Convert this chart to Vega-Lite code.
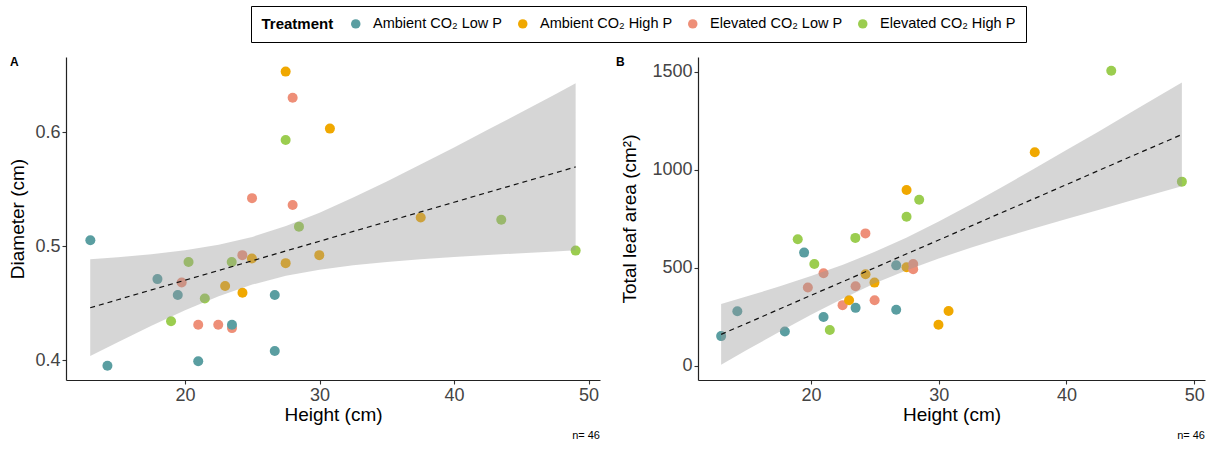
{
  "$schema": "https://vega.github.io/schema/vega-lite/v6.json",
  "padding": {"left": 8, "top": 5, "right": 10, "bottom": 2},
  "config": {
    "font": "Liberation Sans",
    "view": {"stroke": null},
    "axis": {"grid": false, "domainColor": "#222", "domainWidth": 1.2, "tickColor": "#333", "tickSize": 4, "tickWidth": 1.1, "labelFontSize": 18, "labelColor": "#444", "titleFontSize": 19, "titleFontWeight": "normal", "titleColor": "#000", "labelPadding": 2},
    "title": {"fontWeight": "normal"}
  },
  "datasets": {
    "plants": [
      {"h": 12.96, "d": 0.505, "la": 151, "t": "Ambient CO₂ Low P"},
      {"h": 14.23, "d": 0.395, "la": 278, "t": "Ambient CO₂ Low P"},
      {"h": 17.95, "d": 0.471, "la": 174, "t": "Ambient CO₂ Low P"},
      {"h": 18.96, "d": 0.434, "la": 645, "t": "Elevated CO₂ High P"},
      {"h": 19.46, "d": 0.457, "la": 577, "t": "Ambient CO₂ Low P"},
      {"h": 19.75, "d": 0.468, "la": 399, "t": "Elevated CO₂ Low P"},
      {"h": 20.26, "d": 0.486, "la": 519, "t": "Elevated CO₂ High P"},
      {"h": 20.98, "d": 0.431, "la": 472, "t": "Elevated CO₂ Low P"},
      {"h": 20.98, "d": 0.399, "la": 248, "t": "Ambient CO₂ Low P"},
      {"h": 21.47, "d": 0.454, "la": 182, "t": "Elevated CO₂ High P"},
      {"h": 22.47, "d": 0.431, "la": 309, "t": "Elevated CO₂ Low P"},
      {"h": 22.98, "d": 0.465, "la": 334, "t": "Ambient CO₂ High P"},
      {"h": 23.49, "d": 0.428, "la": 405, "t": "Elevated CO₂ Low P"},
      {"h": 23.49, "d": 0.431, "la": 295, "t": "Ambient CO₂ Low P"},
      {"h": 23.47, "d": 0.486, "la": 652, "t": "Elevated CO₂ High P"},
      {"h": 24.26, "d": 0.492, "la": 675, "t": "Elevated CO₂ Low P"},
      {"h": 24.27, "d": 0.459, "la": 467, "t": "Ambient CO₂ High P"},
      {"h": 24.97, "d": 0.489, "la": 424, "t": "Ambient CO₂ High P"},
      {"h": 24.98, "d": 0.542, "la": 334, "t": "Elevated CO₂ Low P"},
      {"h": 26.67, "d": 0.457, "la": 512, "t": "Ambient CO₂ Low P"},
      {"h": 26.67, "d": 0.408, "la": 285, "t": "Ambient CO₂ Low P"},
      {"h": 27.48, "d": 0.653, "la": 896, "t": "Ambient CO₂ High P"},
      {"h": 27.48, "d": 0.593, "la": 760, "t": "Elevated CO₂ High P"},
      {"h": 27.48, "d": 0.485, "la": 502, "t": "Ambient CO₂ High P"},
      {"h": 28.0, "d": 0.630, "la": 519, "t": "Elevated CO₂ Low P"},
      {"h": 28.0, "d": 0.536, "la": 492, "t": "Elevated CO₂ Low P"},
      {"h": 28.47, "d": 0.517, "la": 847, "t": "Elevated CO₂ High P"},
      {"h": 30.77, "d": 0.603, "la": 279, "t": "Ambient CO₂ High P"},
      {"h": 29.98, "d": 0.492, "la": 209, "t": "Ambient CO₂ High P"},
      {"h": 37.52, "d": 0.525, "la": 1089, "t": "Ambient CO₂ High P"},
      {"h": 43.51, "d": 0.523, "la": 1505, "t": "Elevated CO₂ High P"},
      {"h": 49.04, "d": 0.496, "la": 939, "t": "Elevated CO₂ High P"}
    ],
    "fitA": [
      {"x": 12.95, "fit": 0.4459, "lo": 0.4035, "hi": 0.4883},
      {"x": 15, "fit": 0.4529, "lo": 0.4157, "hi": 0.4901},
      {"x": 17.5, "fit": 0.4615, "lo": 0.4301, "hi": 0.4929},
      {"x": 20, "fit": 0.4700, "lo": 0.4437, "hi": 0.4963},
      {"x": 22.5, "fit": 0.4786, "lo": 0.4560, "hi": 0.5012},
      {"x": 25, "fit": 0.4871, "lo": 0.4662, "hi": 0.5080},
      {"x": 27.5, "fit": 0.4957, "lo": 0.4739, "hi": 0.5175},
      {"x": 30, "fit": 0.5042, "lo": 0.4792, "hi": 0.5292},
      {"x": 32.5, "fit": 0.5128, "lo": 0.4831, "hi": 0.5425},
      {"x": 35, "fit": 0.5213, "lo": 0.4860, "hi": 0.5567},
      {"x": 37.5, "fit": 0.5299, "lo": 0.4883, "hi": 0.5715},
      {"x": 40, "fit": 0.5384, "lo": 0.4903, "hi": 0.5865},
      {"x": 42.5, "fit": 0.5470, "lo": 0.4921, "hi": 0.6019},
      {"x": 45, "fit": 0.5555, "lo": 0.4937, "hi": 0.6173},
      {"x": 47.5, "fit": 0.5641, "lo": 0.4953, "hi": 0.6329},
      {"x": 49.04, "fit": 0.5694, "lo": 0.4962, "hi": 0.6427}
    ],
    "fitB": [
      {"x": 12.96, "fit": 160, "lo": 5, "hi": 315},
      {"x": 15, "fit": 217, "lo": 81, "hi": 354},
      {"x": 17.5, "fit": 288, "lo": 172, "hi": 404},
      {"x": 20, "fit": 359, "lo": 260, "hi": 458},
      {"x": 22.5, "fit": 429, "lo": 343, "hi": 515},
      {"x": 25, "fit": 500, "lo": 420, "hi": 581},
      {"x": 27.5, "fit": 571, "lo": 487, "hi": 654},
      {"x": 30, "fit": 641, "lo": 547, "hi": 736},
      {"x": 32.5, "fit": 712, "lo": 602, "hi": 823},
      {"x": 35, "fit": 783, "lo": 653, "hi": 913},
      {"x": 37.5, "fit": 853, "lo": 701, "hi": 1006},
      {"x": 40, "fit": 924, "lo": 749, "hi": 1100},
      {"x": 42.5, "fit": 995, "lo": 795, "hi": 1194},
      {"x": 45, "fit": 1066, "lo": 841, "hi": 1290},
      {"x": 47.5, "fit": 1136, "lo": 887, "hi": 1386},
      {"x": 49.04, "fit": 1180, "lo": 915, "hi": 1445}
    ]
  },
  "spacing": 16,
  "hconcat": [
    {
      "width": 534,
      "height": 323,
      "title": {"text": "n= 46", "orient": "bottom", "anchor": "end", "frame": "group", "fontSize": 11, "color": "#000", "offset": 6},
      "layer": [
        {
          "data": {"name": "plants"},
          "mark": {"type": "circle", "size": 100, "opacity": 1},
          "encoding": {
            "x": {"field": "h", "type": "quantitative", "title": "Height (cm)", "scale": {"domain": [11.15, 50.85], "nice": false, "zero": false}, "axis": {"values": [20, 30, 40, 50], "titlePadding": 1}},
            "y": {"field": "d", "type": "quantitative", "title": "Diameter (cm)", "scale": {"domain": [0.3825, 0.6658], "nice": false, "zero": false}, "axis": {"values": [0.4, 0.5, 0.6], "format": ".1f", "titlePadding": 7}},
            "color": {
              "field": "t", "type": "nominal",
              "scale": {"domain": ["Ambient CO₂ Low P", "Ambient CO₂ High P", "Elevated CO₂ Low P", "Elevated CO₂ High P"], "range": ["#5a9ea1", "#f0a800", "#ee8f78", "#9bcd4f"]},
              "legend": {"orient": "none", "legendX": 185, "legendY": -51, "direction": "horizontal", "title": "Treatment", "titleOrient": "left", "titleFontSize": 15, "titleFontWeight": "bold", "titleColor": "#000", "titlePadding": 15, "labelFontSize": 14.5, "labelColor": "#000", "symbolType": "circle", "symbolSize": 90, "symbolStrokeWidth": 0, "symbolOpacity": 1, "strokeColor": "#000", "padding": 10.5, "columnPadding": 13, "labelOffset": 10}
            }
          }
        },
        {
          "data": {"name": "fitA"},
          "mark": {"type": "area", "color": "#999999", "opacity": 0.4},
          "encoding": {
            "x": {"field": "x", "type": "quantitative", "title": "Height (cm)"},
            "y": {"field": "lo", "type": "quantitative", "title": "Diameter (cm)"},
            "y2": {"field": "hi"}
          }
        },
        {
          "data": {"name": "fitA"},
          "mark": {"type": "line", "color": "#111", "strokeDash": [5, 4], "strokeWidth": 1.2},
          "encoding": {
            "x": {"field": "x", "type": "quantitative", "title": "Height (cm)"},
            "y": {"field": "fit", "type": "quantitative", "title": "Diameter (cm)"}
          }
        },
        {
          "data": {"values": [{}]},
          "mark": {"type": "text", "text": "A", "fontWeight": "bold", "fontSize": 12, "align": "left", "baseline": "top", "dx": -56, "color": "#000"},
          "encoding": {
            "x": {"datum": 11.15, "type": "quantitative"},
            "y": {"datum": 0.6658, "type": "quantitative"}
          }
        }
      ]
    },
    {
      "width": 507,
      "height": 323,
      "title": {"text": "n= 46", "orient": "bottom", "anchor": "end", "frame": "group", "fontSize": 11, "color": "#000", "offset": 6},
      "layer": [
        {
          "data": {"name": "plants"},
          "mark": {"type": "circle", "size": 100, "opacity": 1},
          "encoding": {
            "x": {"field": "h", "type": "quantitative", "title": "Height (cm)", "scale": {"domain": [11.15, 50.85], "nice": false, "zero": false}, "axis": {"values": [20, 30, 40, 50], "titlePadding": 1}},
            "y": {"field": "la", "type": "quantitative", "title": "Total leaf area (cm²)", "scale": {"domain": [-73, 1575], "nice": false, "zero": false}, "axis": {"values": [0, 500, 1000, 1500], "format": "d", "titlePadding": 12}},
            "color": {"field": "t", "type": "nominal"}
          }
        },
        {
          "data": {"name": "fitB"},
          "mark": {"type": "area", "color": "#999999", "opacity": 0.4},
          "encoding": {
            "x": {"field": "x", "type": "quantitative", "title": "Height (cm)"},
            "y": {"field": "lo", "type": "quantitative", "title": "Total leaf area (cm²)"},
            "y2": {"field": "hi"}
          }
        },
        {
          "data": {"name": "fitB"},
          "mark": {"type": "line", "color": "#111", "strokeDash": [5, 4], "strokeWidth": 1.2},
          "encoding": {
            "x": {"field": "x", "type": "quantitative", "title": "Height (cm)"},
            "y": {"field": "fit", "type": "quantitative", "title": "Total leaf area (cm²)"}
          }
        },
        {
          "data": {"values": [{}]},
          "mark": {"type": "text", "text": "B", "fontWeight": "bold", "fontSize": 12, "align": "left", "baseline": "top", "dx": -82, "color": "#000"},
          "encoding": {
            "x": {"datum": 11.15, "type": "quantitative"},
            "y": {"datum": 1575, "type": "quantitative"}
          }
        }
      ]
    }
  ]
}
